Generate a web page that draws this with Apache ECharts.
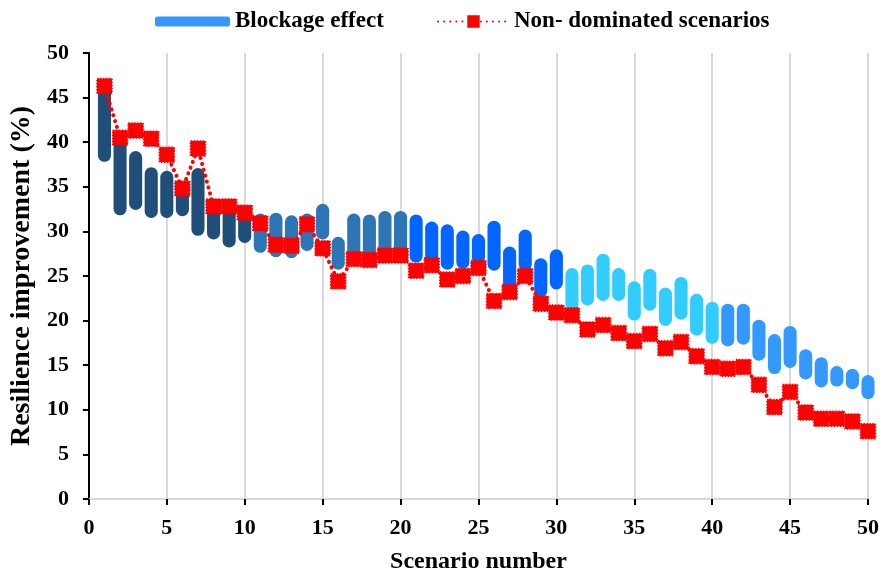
<!DOCTYPE html>
<html>
<head>
<meta charset="utf-8">
<script src="https://cdn.jsdelivr.net/npm/echarts@6/dist/echarts.min.js"></script>
<style>
html,body{margin:0;padding:0;background:#fff;}
#chart{width:882px;height:579px;}
</style>
</head>
<body>
<div id="chart"></div>
<script>
// ---- data ----
const scenarios = [1,2,3,4,5,6,7,8,9,10,11,12,13,14,15,16,17,18,19,20,21,22,23,24,25,26,27,28,29,30,31,32,33,34,35,36,37,38,39,40,41,42,43,44,45,46,47,48,49,50];
const blockHigh = [46.4,41.0,39.0,37.2,36.8,35.5,37.1,33.4,33.4,32.8,
                   32.0,32.1,31.8,32.0,33.1,29.4,32.0,31.9,32.3,32.3,
                   31.9,31.1,30.8,30.1,29.7,31.2,28.3,30.2,27.0,28.0,
                   25.9,26.3,27.5,25.9,24.4,25.8,23.7,24.9,23.0,22.1,
                   21.9,21.9,20.1,18.5,19.4,16.8,15.9,14.9,14.6,13.9];
const blockLow  = [37.8,31.8,32.4,31.5,31.5,31.7,29.5,29.1,28.2,28.7,
                   27.6,27.1,27.0,27.8,29.1,25.7,26.8,26.8,27.2,27.2,
                   26.5,26.3,25.7,25.8,26.3,25.6,23.4,25.6,22.6,23.5,
                   21.1,21.7,22.2,22.2,20.0,21.1,19.4,20.1,18.3,17.4,
                   17.1,17.3,15.5,14.0,14.7,13.4,12.5,12.6,12.3,11.2];
const nonDominated = [46.3,40.5,41.3,40.4,38.6,34.8,39.3,32.8,32.8,32.1,
                      30.9,28.5,28.4,30.8,28.1,24.4,26.9,26.8,27.3,27.3,
                      25.6,26.2,24.6,25.0,25.9,22.2,23.2,25.0,21.9,20.9,
                      20.6,19.0,19.5,18.6,17.7,18.5,16.9,17.6,16.0,14.8,
                      14.6,14.8,12.8,10.3,12.0,9.7,9.0,9.0,8.7,7.6];
const groupColors = ['#1F4E79','#2E75B6','#0066FF','#33CCFF','#3399FF'];

const FONT = '"Liberation Serif", "Times New Roman", serif';
const chart = echarts.init(document.getElementById('chart'), null, {renderer:'canvas'});

const barData = scenarios.map((s,i)=>[s, blockLow[i], blockHigh[i]]);
const lineData = scenarios.map((s,i)=>[s, nonDominated[i]]);

function renderBar(params, api){
  const x = api.value(0), lo = api.value(1), hi = api.value(2);
  const pt = api.coord([x, hi]);
  const pb = api.coord([x, lo]);
  const w = api.size([1,0])[0]*0.84;
  return {
    type:'rect',
    shape:{x:pt[0]-w/2, y:pt[1], width:w, height:pb[1]-pt[1], r:w/2},
    style:{fill: groupColors[Math.floor(params.dataIndex/10)]}
  };
}

const labelFont = {fontFamily:FONT, fontWeight:'bold', fontSize:22, color:'#000'};

chart.setOption({
  animation:false,
  backgroundColor:'#fff',
  textStyle:{fontFamily:FONT},
  legend:[
    {data:[{name:'Blockage effect', icon:'roundRect'}], left:150, top:5, itemWidth:75, itemHeight:10,
     textStyle:{fontFamily:FONT, fontWeight:'bold', fontSize:23, color:'#000'}},
    {data:['Non- dominated scenarios'], left:432, top:5, itemWidth:71, itemHeight:13,
     textStyle:{fontFamily:FONT, fontWeight:'bold', fontSize:23, color:'#000'}}
  ],
  grid:{left:87, right:13, top:53, bottom:78, containLabel:false},
  xAxis:[{
    type:'value', min:0, max:50, interval:5,
    name:'Scenario number', nameLocation:'middle', nameGap:51,
    nameTextStyle:{fontFamily:FONT, fontWeight:'bold', fontSize:24, color:'#000'},
    axisLine:{show:true, onZero:false, lineStyle:{color:'#000', width:2}},
    axisTick:{show:true, inside:false, length:6, lineStyle:{color:'#000', width:2}},
    axisLabel:Object.assign({margin:18}, labelFont),
    splitLine:{show:true, lineStyle:{color:'#d9d9d9', width:2}}
  },{
    type:'value', min:0, max:50, position:'top',
    axisLine:{show:true, lineStyle:{color:'#d9d9d9', width:2}},
    axisTick:{show:false}, axisLabel:{show:false}, splitLine:{show:false}
  }],
  yAxis:{
    type:'value', min:0, max:50, interval:5,
    name:'Resilience improvement (%)', nameLocation:'middle', nameGap:49, nameRotate:90,
    nameTextStyle:{fontFamily:FONT, fontWeight:'bold', fontSize:28, color:'#000'},
    axisLine:{show:true, lineStyle:{color:'#000', width:2}},
    axisTick:{show:true, inside:false, length:6, lineStyle:{color:'#000', width:2}},
    axisLabel:Object.assign({margin:20}, labelFont),
    splitLine:{show:false}
  },
  series:[
    {
      name:'Blockage effect', type:'custom', renderItem:renderBar,
      data:barData, encode:{x:0, y:[1,2]},
      itemStyle:{color:'#3399FF'}, z:2
    },
    {
      name:'Non- dominated scenarios', type:'line', data:lineData,
      symbol:'rect', symbolSize:15,
      itemStyle:{color:'#FF0000', borderColor:'#FF0000', borderWidth:1.5, borderType:'dotted'},
      lineStyle:{color:'#FF0000', width:4, type:[0.1,6], cap:'round'},
      z:3
    }
  ]
});
</script>
</body>
</html>
